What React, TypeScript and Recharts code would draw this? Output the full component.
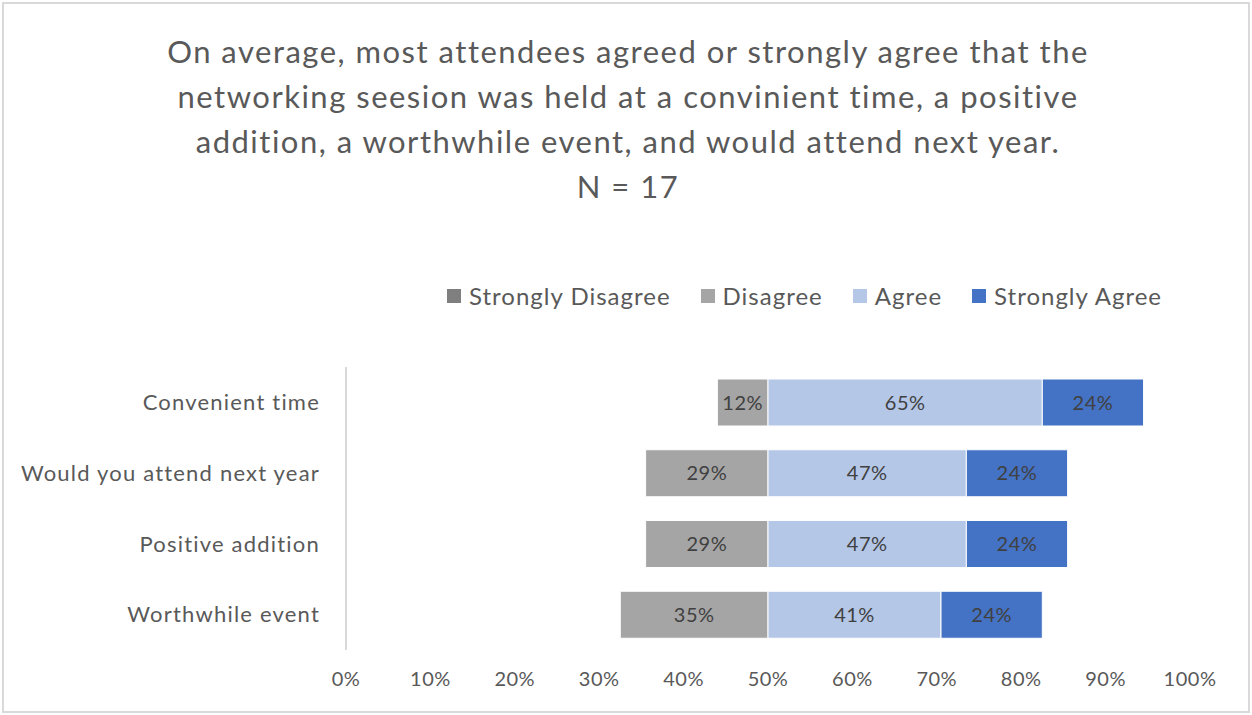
import React from 'react'
import { BarChart, Bar, XAxis, YAxis, LabelList } from 'recharts'

const questions = ['Convenient time', 'Would you attend next year', 'Positive addition', 'Worthwhile event']
const stronglyDisagree = [0, 0, 0, 0]
const disagree = [12, 29, 29, 35]
const agree = [65, 47, 47, 41]
const stronglyAgree = [24, 24, 24, 24]
const xTicks = [0, 10, 20, 30, 40, 50, 60, 70, 80, 90, 100]

const titleLines = [
   'On average, most attendees agreed or strongly agree that the',
   'networking seesion was held at a convinient time, a positive',
   'addition, a worthwhile event, and would attend next year.',
   'N = 17',
]

const legendItems = [
   { label: 'Strongly Disagree', color: '#7f7f7f' },
   { label: 'Disagree', color: '#a5a5a5' },
   { label: 'Agree', color: '#b4c7e7' },
   { label: 'Strongly Agree', color: '#4472c4' },
]

// diverging layout: each segment drawn at half width, centred on 50%
const rows = questions.map((name, i) => ({
   name,
   offset: 50 - (stronglyDisagree[i] + disagree[i]) / 2,
   sd: stronglyDisagree[i] / 2,
   d: disagree[i] / 2,
   a: agree[i] / 2,
   sa: stronglyAgree[i] / 2,
   sdRaw: stronglyDisagree[i],
   dRaw: disagree[i],
   aRaw: agree[i],
   saRaw: stronglyAgree[i],
}))

const FONT = 'Lato, "Open Sans", sans-serif'
const pct = (v: any) => (v ? `${v}%` : '')

const labelStyle = { fill: '#404040', fontSize: 20, fontFamily: FONT, letterSpacing: 0.5 }

const App = () => (
   <div style={{ position: 'absolute', left: 0, top: 0, width: 1252, height: 715, background: '#fff', fontFamily: FONT }}>
      <div
         style={{
            position: 'absolute',
            left: 2,
            top: 2,
            width: 1244,
            height: 707,
            border: '2px solid #d9d9d9',
         }}
      />
      <div
         style={{
            position: 'absolute',
            left: 0,
            top: 29,
            width: 1256,
            textAlign: 'center',
            color: '#595959',
            fontSize: 31,
            letterSpacing: 1.5,
            lineHeight: '45px',
         }}
      >
         {titleLines.map(l => (
            <div key={l}>{l}</div>
         ))}
      </div>
      <div
         style={{
            position: 'absolute',
            left: 447,
            top: 281,
            display: 'flex',
            alignItems: 'center',
            color: '#595959',
            fontSize: 24,
            letterSpacing: 1,
         }}
      >
         {legendItems.map(item => (
            <div key={item.label} style={{ display: 'flex', alignItems: 'center', marginRight: 30 }}>
               <span style={{ width: 14, height: 14, background: item.color, marginRight: 8, display: 'inline-block' }} />
               <span>{item.label}</span>
            </div>
         ))}
      </div>
      <BarChart
         width={1252}
         height={715}
         data={rows}
         layout='vertical'
         margin={{ top: 367, right: 62, left: 10, bottom: 25 }}
         style={{ position: 'absolute', left: 0, top: 0 }}
      >
         <XAxis
            type='number'
            domain={[0, 100]}
            ticks={xTicks}
            tickFormatter={v => `${v}%`}
            axisLine={false}
            tickLine={false}
            tickSize={0}
            tickMargin={22}
            height={40}
            tick={{ fill: '#595959', fontSize: 20, fontFamily: FONT, letterSpacing: 0.5 }}
         />
         <YAxis
            type='category'
            dataKey='name'
            width={336}
            axisLine={{ stroke: '#d9d9d9', strokeWidth: 2 }}
            tickLine={false}
            tickSize={0}
            tickMargin={26}
            tick={{ fill: '#595959', fontSize: 22, fontFamily: FONT, letterSpacing: 1.2 }}
         />
         <Bar dataKey='offset' stackId='s' fill='transparent' barSize={47} isAnimationActive={false} legendType='none' />
         <Bar dataKey='sd' stackId='s' fill='#7f7f7f' stroke='#fff' strokeWidth={1} barSize={47} isAnimationActive={false}>
            <LabelList dataKey='sdRaw' position='center' formatter={pct} style={labelStyle} />
         </Bar>
         <Bar dataKey='d' stackId='s' fill='#a5a5a5' stroke='#fff' strokeWidth={1} barSize={47} isAnimationActive={false}>
            <LabelList dataKey='dRaw' position='center' formatter={pct} style={labelStyle} />
         </Bar>
         <Bar dataKey='a' stackId='s' fill='#b4c7e7' stroke='#fff' strokeWidth={1} barSize={47} isAnimationActive={false}>
            <LabelList dataKey='aRaw' position='center' formatter={pct} style={labelStyle} />
         </Bar>
         <Bar dataKey='sa' stackId='s' fill='#4472c4' stroke='#fff' strokeWidth={1} barSize={47} isAnimationActive={false}>
            <LabelList dataKey='saRaw' position='center' formatter={pct} style={labelStyle} />
         </Bar>
      </BarChart>
   </div>
)

export default App
